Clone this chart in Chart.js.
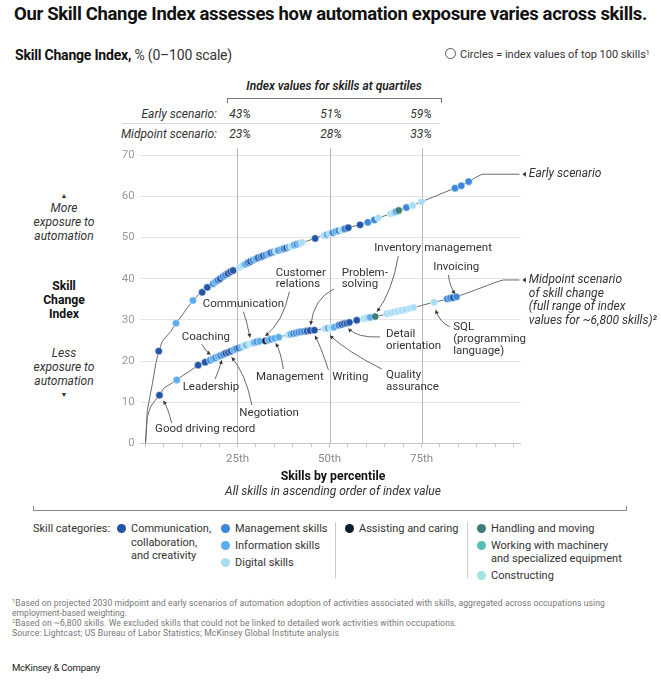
<!DOCTYPE html>
<html>
<head>
<meta charset="utf-8">
<script src="https://cdn.jsdelivr.net/npm/chart.js@4.4.1/dist/chart.umd.min.js"></script>
<style>
  body { margin:0; background:#fff; font-family:Roboto, "Liberation Sans", sans-serif; color:#222; }
  #wrap { position:relative; width:661px; height:680px; overflow:hidden; }
  .t { position:absolute; white-space:nowrap; line-height:14px; }
  .sm { font-size:11.5px; color:#333; }
  .it { font-style:italic; }
  .ctr { transform:translateX(-50%); text-align:center; }
  .dot { position:absolute; width:9px; height:9px; border-radius:50%; }
  .fn { font-size:8.6px; color:#777; left:12px; line-height:10px; }
  .sp { font-size:5.5px; position:relative; top:-3px; line-height:0; }
  #chartbox { position:absolute; left:0; top:140px; width:661px; height:340px; }
</style>
</head>
<body>
<div id="wrap">
  <div class="t fit" data-w="633" style="left:14px;top:3px;font-size:18.5px;line-height:22px;font-weight:700;color:#111">Our Skill Change Index assesses how automation exposure varies across skills.</div>
  <div class="t fit" data-w="217" style="left:15px;top:47px;font-size:14px;line-height:16px;color:#333"><b style="color:#111;font-weight:700">Skill Change Index,</b> % (0–100 scale)</div>
  <div class="t" style="left:445px;top:48px;font-size:11px;color:#333"><span style="display:inline-block;width:9px;height:9px;border:1px solid #555;border-radius:50%;vertical-align:-1px;margin-right:4px"></span>Circles = index values of top 100 skills<span class="sp" style="font-size:7px">1</span></div>

  <!-- quartile table -->
  <div class="t it ctr" style="left:334px;top:79px;font-size:12px;font-weight:600;color:#222">Index values for skills at quartiles</div>
  <div style="position:absolute;left:227px;top:98px;width:213px;height:4px;border:1px solid #777;border-bottom:none"></div>
  <div class="t it sm" style="right:444px;top:107px;font-size:12px">Early scenario:</div>
  <div class="t it sm ctr" style="left:240px;top:107px;font-size:12px">43%</div>
  <div class="t it sm ctr" style="left:331px;top:107px;font-size:12px">51%</div>
  <div class="t it sm ctr" style="left:421px;top:107px;font-size:12px">59%</div>
  <div style="position:absolute;left:122px;top:123px;width:318px;height:1px;background:#d8d8d8"></div>
  <div class="t it sm" style="right:444px;top:127px;font-size:12px">Midpoint scenario:</div>
  <div class="t it sm ctr" style="left:240px;top:127px;font-size:12px">23%</div>
  <div class="t it sm ctr" style="left:331px;top:127px;font-size:12px">28%</div>
  <div class="t it sm ctr" style="left:421px;top:127px;font-size:12px">33%</div>

  <!-- left axis description -->
  <div class="t ctr" style="left:64px;top:189px;font-size:7px;color:#333">▲</div>
  <div class="t it sm ctr" style="left:64px;top:201px;font-size:12px;line-height:14.2px">More<br>exposure to<br>automation</div>
  <div class="t ctr" style="left:64px;top:279px;font-size:12.2px;line-height:14px;font-weight:700;color:#111">Skill<br>Change<br>Index</div>
  <div class="t it sm ctr" style="left:64px;top:346px;font-size:12px;line-height:14.2px">Less<br>exposure to<br>automation</div>
  <div class="t ctr" style="left:64px;top:388px;font-size:7px;color:#333">▼</div>

  <div id="chartbox"><canvas id="c" width="661" height="340"></canvas></div>

  <div class="t ctr" style="left:333px;top:469px;font-size:12.3px;font-weight:700;color:#111">Skills by percentile</div>
  <div class="t it ctr" style="left:333px;top:484px;font-size:12px;color:#333">All skills in ascending order of index value</div>
  <div style="position:absolute;left:33px;top:506px;width:592px;height:4px;border:1px solid #888;border-top:none"></div>

  <!-- legend -->
  <div class="t sm" style="left:33px;top:522px;font-size:11px">Skill categories:</div>
  <div class="dot" style="left:117px;top:524px;background:#2356a6"></div>
  <div class="t sm" style="left:131px;top:522px;font-size:11px;line-height:13.5px">Communication,<br>collaboration,<br>and creativity</div>
  <div class="dot" style="left:221px;top:524px;background:#3c88d9"></div>
  <div class="t sm" style="left:235px;top:522px;font-size:11px">Management skills</div>
  <div class="dot" style="left:221px;top:541px;background:#5aaeed"></div>
  <div class="t sm" style="left:235px;top:539px;font-size:11px">Information skills</div>
  <div class="dot" style="left:221px;top:558px;background:#a9dcf5"></div>
  <div class="t sm" style="left:235px;top:556px;font-size:11px">Digital skills</div>
  <div style="position:absolute;left:335px;top:522px;width:1px;height:56px;background:#ccc"></div>
  <div class="dot" style="left:345px;top:524px;background:#0d1b31"></div>
  <div class="t sm" style="left:359px;top:522px;font-size:11px">Assisting and caring</div>
  <div style="position:absolute;left:467px;top:522px;width:1px;height:56px;background:#ccc"></div>
  <div class="dot" style="left:477px;top:524px;background:#3b7d77"></div>
  <div class="t sm" style="left:491px;top:522px;font-size:11px">Handling and moving</div>
  <div class="dot" style="left:477px;top:541px;background:#55c0b6"></div>
  <div class="t sm" style="left:491px;top:539px;font-size:11px;line-height:13px">Working with machinery<br>and specialized equipment</div>
  <div class="dot" style="left:477px;top:571px;background:#9ee6e2"></div>
  <div class="t sm" style="left:491px;top:569px;font-size:11px">Constructing</div>

  <!-- footnotes -->
  <div class="t fn fit" data-w="593" style="top:598px"><span class="sp">1</span>Based on projected 2030 midpoint and early scenarios of automation adoption of activities associated with skills, aggregated across occupations using</div>
  <div class="t fn" style="top:608px">employment-based weighting.</div>
  <div class="t fn fit" data-w="445" style="top:618px"><span class="sp">2</span>Based on ~6,800 skills. We excluded skills that could not be linked to detailed work activities within occupations.</div>
  <div class="t fn fit" data-w="327" style="top:628px">Source: Lightcast; US Bureau of Labor Statistics; McKinsey Global Institute analysis</div>
  <div class="t fit" data-w="88" style="left:12px;top:661px;font-size:9.5px;color:#222">McKinsey &amp; Company</div>
</div>

<script>
// ---- data ----
const CAT_COLORS = {C:'#2356a6', M:'#3c88d9', I:'#5aaeed', D:'#a9dcf5', A:'#0d1b31', H:'#3b7d77', W:'#55c0b6', K:'#9ee6e2'};
const QUARTILES = [25, 50, 75];
const X_TICKS = [0,5,10,15,20,25,30,35,40,45,50,55,60,65,70,75,80,85,90,95,100];
const X_LABELS = {25:'25th', 50:'50th', 75:'75th'};
const Y_TICKS = [0,10,20,30,40,50,60,70];

// full curves: [percentile, index]
const earlyLine = [[0,0],[0.5,8],[1.9,14.6],[2.8,19.4],[3.6,22.4],[4.6,24.8],[5.5,25.8],[6.9,27.2],[8.3,29.2],[10,31.2],[11.5,33.1],[12.9,34.7],[14.5,36.2],[16,37.3],[18,38.6],[20,39.9],[22,41.1],[24,42.1],[26,43.0],[28,43.9],[30,44.9],[32,45.6],[34,46.3],[36,46.9],[38,47.5],[40,48.1],[42,48.7],[44,49.2],[46,49.8],[48,50.4],[50,51.0],[52,51.5],[55,52.4],[58,53.1],[60,53.7],[62,54.3],[64,55.0],[66,55.6],[68,56.3],[70,57.0],[72,57.6],[75,58.7],[78,59.8],[81,60.9],[84,62.0],[86,62.8],[88,63.7],[89.5,64.5],[91.4,65.4]];
const midLine = [[0,0],[0.5,6.5],[1.4,8.9],[2.5,10.3],[3.8,11.7],[5,13.4],[6.4,14.2],[8.5,15.4],[10,16.4],[11.8,17.4],[14.3,19.0],[16,19.6],[18,20.3],[20,21.1],[22,21.9],[24,22.7],[26,23.4],[28,24.0],[30,24.6],[32,24.9],[34,25.3],[36,25.8],[38,26.2],[40,26.7],[42,27.1],[44,27.3],[46,27.5],[48,27.8],[50,28.1],[52,28.6],[54,29.1],[56,29.5],[58,30.0],[60,30.4],[62,30.7],[64,31.1],[66,31.5],[68,32.0],[70,32.4],[72,32.8],[75,33.5],[78,34.2],[80,34.6],[82,35.1],[84.5,35.6],[87,36.4],[90,37.4],[93,38.4],[95,39.1],[97.2,39.7]];

// top-100 skill circles: [percentile, index, category]
const earlyDots = [[3.6,22.4,'C'],[8.3,29.2,'I'],[12.9,34.7,'I'],[15.4,36.7,'C'],[16.8,37.9,'C'],[18.4,38.8,'M'],[19.0,39.2,'I'],[19.6,39.6,'M'],[20.3,40.0,'C'],[21.0,40.5,'M'],[21.7,40.9,'M'],[22.4,41.3,'C'],[23.1,41.7,'C'],[23.8,42.0,'C'],[25.6,42.8,'D'],[26.4,43.2,'D'],[27.1,43.5,'I'],[27.8,43.9,'M'],[28.5,44.2,'C'],[29.2,44.5,'M'],[29.9,44.8,'I'],[30.6,45.1,'C'],[31.3,45.3,'M'],[32.0,45.6,'C'],[32.7,45.8,'M'],[33.4,46.1,'I'],[34.1,46.3,'C'],[34.8,46.5,'M'],[35.5,46.7,'D'],[36.2,46.9,'M'],[36.9,47.1,'I'],[37.6,47.3,'M'],[38.3,47.5,'C'],[39.0,47.7,'I'],[39.7,47.9,'D'],[40.4,48.2,'I'],[41.1,48.4,'M'],[41.8,48.6,'I'],[42.5,48.8,'D'],[46.1,49.8,'C'],[48.5,50.5,'D'],[49.3,50.7,'I'],[50.1,51.0,'D'],[50.9,51.2,'M'],[51.7,51.5,'I'],[52.5,51.7,'M'],[53.3,51.9,'D'],[54.1,52.1,'M'],[55.1,52.4,'C'],[58.3,53.1,'C'],[60.4,53.7,'M'],[62.2,54.3,'M'],[63.3,54.8,'D'],[66.6,55.8,'D'],[67.3,56.0,'D'],[68.0,56.3,'I'],[68.8,56.6,'H'],[70.9,57.3,'M'],[72.6,57.8,'D'],[75.0,58.7,'D'],[84.1,62.0,'M'],[85.8,62.6,'M'],[87.8,63.6,'M']];
const midDots = [[3.8,11.7,'C'],[8.5,15.4,'I'],[14.3,19.0,'C'],[16.2,19.7,'C'],[17.6,20.2,'M'],[18.3,20.5,'I'],[19.0,20.8,'M'],[19.7,21.1,'I'],[20.4,21.3,'M'],[21.1,21.6,'M'],[21.8,21.9,'C'],[22.5,22.1,'C'],[23.2,22.4,'C'],[24.0,22.7,'I'],[24.7,23.0,'M'],[25.4,23.2,'C'],[26.1,23.4,'I'],[26.8,23.7,'D'],[27.5,23.9,'I'],[28.2,24.1,'D'],[28.9,24.3,'D'],[29.6,24.5,'I'],[30.3,24.7,'M'],[31.0,24.8,'I'],[32.6,24.9,'A'],[33.4,25.1,'I'],[34.2,25.3,'M'],[35.0,25.5,'I'],[36.2,25.8,'I'],[38.8,26.4,'D'],[39.5,26.5,'I'],[40.2,26.7,'M'],[40.9,26.8,'M'],[41.6,27.0,'M'],[42.3,27.1,'M'],[43.1,27.2,'M'],[43.9,27.3,'C'],[44.7,27.4,'C'],[45.9,27.5,'C'],[48.8,27.9,'D'],[49.6,28.0,'I'],[50.4,28.1,'D'],[51.2,28.2,'I'],[52.5,28.7,'M'],[53.3,28.9,'C'],[54.0,29.1,'C'],[54.7,29.2,'C'],[55.4,29.4,'C'],[57.4,29.9,'C'],[59.4,30.3,'D'],[60.2,30.5,'D'],[61.0,30.6,'I'],[62.4,30.8,'H'],[65.6,31.5,'D'],[66.6,31.7,'D'],[67.6,31.9,'D'],[68.6,32.1,'D'],[69.6,32.3,'D'],[70.6,32.5,'D'],[71.8,32.8,'D'],[72.8,33.0,'D'],[78.4,34.3,'D'],[82.0,35.1,'M'],[82.8,35.3,'M'],[83.6,35.4,'C'],[84.5,35.6,'M']];

// callouts, in chart units: text anchor and curved leader (start, bend, tip)
const callouts = [
  {text:['Good driving record'], at:[2.6,3.55], path:[[7.1,4.9],[6.2,8.5],[4.85,10.35]]},
  {text:['Leadership'], at:[10.1,13.6], path:[[18.9,15.6],[20.2,18.3],[20.7,20.2]]},
  {text:['Negotiation'], at:[25.5,7.45], path:[[28.9,9.3],[27.2,17.0],[23.4,20.9]]},
  {text:['Coaching'], at:[9.85,25.9], path:[[15.3,24.1],[16.2,22.45],[17.7,21.6]]},
  {text:['Communication'], at:[15.55,33.8], path:[[26.6,32.0],[27.6,29.5],[28.4,25.7]]},
  {text:['Customer','relations'], at:[35.4,41.45], path:[[39.1,36.85],[37.4,29.5],[32.55,26.1]]},
  {text:['Problem-','solving'], at:[53.3,41.45], path:[[51.2,37.5],[45.8,35.3],[44.9,28.8]]},
  {text:['Management'], at:[30.0,16.2], path:[[37.45,18.05],[36.8,22.2],[35.4,24.3]]},
  {text:['Writing'], at:[50.75,16.2], path:[[49.7,17.8],[47.7,23.4],[46.05,26.15]]},
  {text:['Quality','assurance'], at:[65.35,16.6], path:[[64.2,18.05],[55.0,22.2],[50.1,26.2]]},
  {text:['Detail','orientation'], at:[65.35,26.5], path:[[63.7,25.85],[57.5,25.6],[55.1,27.9]]},
  {text:['Inventory management'], at:[62.15,47.4], path:[[68.7,45.5],[67.0,36.8],[62.9,32.0]]},
  {text:['Invoicing'], at:[78.2,42.9], path:[[82.3,40.9],[82.7,38.0],[84.1,36.3]]},
  {text:['SQL','(programming','language)'], at:[83.6,28.2], path:[[82.7,28.3],[79.8,29.5],[78.9,32.4]]},
];
const seriesLabels = [
  {text:['Early scenario'], line: earlyLine},
  {text:['Midpoint scenario','of skill change','(full range of index','values for ~6,800 skills)²'], line: midLine},
];

// ---- helpers ----
const FONT = 'Roboto, "Liberation Sans", sans-serif';
Chart.defaults.font.family = FONT;

function drawArrow(ctx, x, y, path) {
  const p = path.map(d => [x.getPixelForValue(d[0]), y.getPixelForValue(d[1])]);
  const [s, c, e] = p;
  ctx.beginPath();
  ctx.moveTo(s[0], s[1]);
  ctx.quadraticCurveTo(c[0], c[1], e[0], e[1]);
  ctx.stroke();
  const ang = Math.atan2(e[1]-c[1], e[0]-c[0]);
  const L = 4.2;
  ctx.beginPath();
  ctx.moveTo(e[0], e[1]);
  ctx.lineTo(e[0]-L*Math.cos(ang-0.5), e[1]-L*Math.sin(ang-0.5));
  ctx.lineTo(e[0]-L*Math.cos(ang+0.5), e[1]-L*Math.sin(ang+0.5));
  ctx.closePath();
  ctx.fill();
}

const overlay = {
  id: 'overlay',
  beforeDatasetsDraw(chart) {
    const {ctx, scales:{x, y}, chartArea} = chart;
    ctx.save();
    ctx.strokeStyle = '#b9b9b9';
    ctx.lineWidth = 1;
    QUARTILES.forEach(q => {
      const px = Math.round(x.getPixelForValue(q)) + 0.5;
      ctx.beginPath();
      ctx.moveTo(px, chartArea.top - 7);
      ctx.lineTo(px, chartArea.bottom);
      ctx.stroke();
    });
    // leaders from curve ends to the series labels
    ctx.strokeStyle = '#6b6b6b';
    seriesLabels.forEach(s => {
      const last = s.line[s.line.length-1];
      const py = y.getPixelForValue(last[1]);
      ctx.beginPath();
      ctx.moveTo(x.getPixelForValue(last[0]), py);
      ctx.lineTo(x.getPixelForValue(101.6), py);
      ctx.stroke();
    });
    ctx.restore();
  },
  afterDatasetsDraw(chart) {
    const {ctx, scales:{x, y}} = chart;
    ctx.save();
    ctx.strokeStyle = '#444';
    ctx.fillStyle = '#333';
    ctx.lineWidth = 0.8;
    callouts.forEach(a => drawArrow(ctx, x, y, a.path));
    ctx.font = '11.5px ' + FONT;
    ctx.textBaseline = 'middle';
    ctx.textAlign = 'left';
    callouts.forEach(a => {
      const tx = x.getPixelForValue(a.at[0]);
      const ty = y.getPixelForValue(a.at[1]);
      a.text.forEach((t, i) => ctx.fillText(t, tx, ty + i*11.8));
    });
    // series labels with small left-pointing markers
    ctx.font = 'italic 12px ' + FONT;
    seriesLabels.forEach(s => {
      const last = s.line[s.line.length-1];
      const py = y.getPixelForValue(last[1]);
      const ax = x.getPixelForValue(102.4);
      ctx.beginPath();
      ctx.moveTo(ax, py);
      ctx.lineTo(ax+3.5, py-2.5);
      ctx.lineTo(ax+3.5, py+2.5);
      ctx.closePath();
      ctx.fill();
      s.text.forEach((t, i) => ctx.fillText(t, ax + 6.5, py + i*13.7));
    });
    ctx.restore();
  }
};

function lineSet(pts) {
  return {type:'line', data: pts.map(d => ({x:d[0], y:d[1]})), borderColor:'#6b6b6b', borderWidth:1,
          pointRadius:0, tension:0, order:3};
}
function dotSet(pts) {
  return {type:'scatter', data: pts.map(d => ({x:d[0], y:d[1]})),
          pointBackgroundColor: pts.map(d => CAT_COLORS[d[2]]), pointBorderColor:'rgba(255,255,255,0.85)',
          pointBorderWidth:0.6, pointRadius:3.7, pointHoverRadius:3.7, order:1};
}

new Chart(document.getElementById('c'), {
  type: 'scatter',
  data: { datasets: [lineSet(earlyLine), lineSet(midLine), dotSet(earlyDots), dotSet(midDots)] },
  options: {
    responsive: false,
    animation: false,
    events: [],
    layout: { padding: {left:0, right:140.1, top:15.3, bottom:0} },
    plugins: { legend:{display:false}, tooltip:{enabled:false} },
    scales: {
      x: {
        type:'linear', min:-1.3, max:102,
        afterBuildTicks: s => { s.ticks = X_TICKS.map(v => ({value:v})); },
        afterFit: s => { s.height = 36.7; },
        grid: { drawOnChartArea:false, drawTicks:true, tickLength:4, color:'#c8c8c8' },
        border: { display:true, color:'#c8c8c8' },
        ticks: { autoSkip:false, maxRotation:0, padding:5, color:'#8a8a8a', font:{size:11.5},
                 callback: v => X_LABELS[v] || '' }
      },
      y: {
        min:0, max:70,
        afterBuildTicks: s => { s.ticks = Y_TICKS.map(v => ({value:v})); },
        afterFit: s => { s.width = 140.7; },
        grid: { drawTicks:false, color:'#e4e4e4' },
        border: { display:false },
        ticks: { padding:6, color:'#9a9a9a', font:{size:11.5} }
      }
    }
  },
  plugins: [overlay]
});

// squeeze/stretch a few text lines to the widths they have in the picture
document.querySelectorAll('.fit').forEach(el => {
  el.style.display = 'inline-block';
  const w = el.getBoundingClientRect().width;
  const n = el.textContent.length;
  const ls = Math.max(-1.2, Math.min(1, (parseFloat(el.dataset.w) - w) / n));
  el.style.letterSpacing = ls.toFixed(3) + 'px';
});
</script>
</body>
</html>
